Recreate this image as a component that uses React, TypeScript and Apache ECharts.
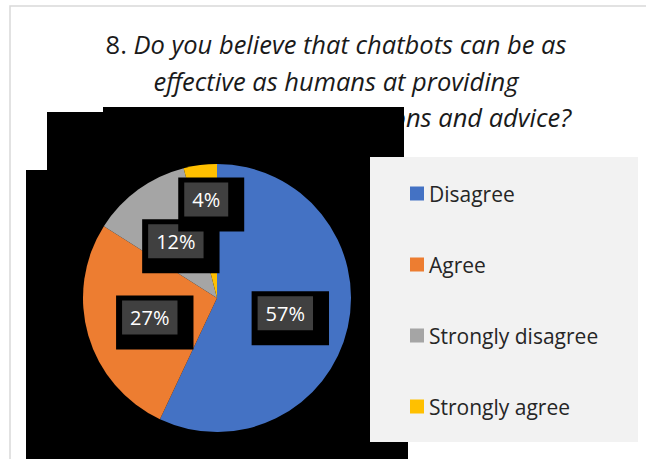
import React, { useEffect, useRef } from "react";
import * as echarts from "echarts";

const categories = ["Disagree", "Agree", "Strongly disagree", "Strongly agree"];
const values = [57, 27, 12, 4];
const colors = ["#4472C4", "#ED7D31", "#A5A5A5", "#FFC000"];
const titleLines = [
  "Do you believe that chatbots can be as",
  "effective as humans at providing",
  "social care recommendations and advice?",
];

export default function App() {
  const ref = useRef<HTMLDivElement>(null);
  useEffect(() => {
    if (!ref.current) return;
    const chart = echarts.init(ref.current, null, { renderer: "svg" });
    const font = "'Open Sans', sans-serif";
    chart.setOption({
      animation: false,
      backgroundColor: "#ffffff",
      title: {
        text: `{n|8. }{i|${titleLines[0]}}\n{i|${titleLines[1]}}\n{i|${titleLines[2]}}`,
        left: 331,
        top: 21,
        textAlign: "center",
        z: 0,
        textStyle: {
          fontWeight: "normal",
          rich: {
            n: { fontFamily: font, fontSize: 25.5, fontWeight: "normal", color: "#1a1a1a", lineHeight: 36.5 },
            i: { fontFamily: font, fontSize: 25.5, fontWeight: "normal", fontStyle: "italic", color: "#1a1a1a", lineHeight: 36.5 },
          },
        },
      },
      graphic: [
        { type: "rect", z: 0, shape: { x: 10, y: 6, width: 700, height: 500 }, style: { fill: "none", stroke: "#d9d9d9", lineWidth: 1.5 } },
        { type: "rect", z: 1, shape: { x: 103, y: 107, width: 301, height: 60 }, style: { fill: "#000" } },
        { type: "rect", z: 1, shape: { x: 47, y: 112, width: 357, height: 60 }, style: { fill: "#000" } },
        { type: "rect", z: 1, shape: { x: 26, y: 170, width: 382, height: 300 }, style: { fill: "#000" } },
        { type: "rect", z: 1, shape: { x: 370, y: 157, width: 268, height: 285 }, style: { fill: "#f2f2f2" } },
      ],
      legend: {
        orient: "vertical",
        left: 410,
        top: 183,
        padding: 0,
        itemWidth: 14,
        itemHeight: 14,
        itemGap: 50,
        icon: "rect",
        z: 4,
        data: categories,
        textStyle: { fontFamily: font, fontSize: 21, color: "#262626", lineHeight: 20, padding: [0, 0, 0, 0] },
      },
      series: [
        {
          type: "pie",
          center: [217, 298],
          radius: 134,
          startAngle: 90,
          clockwise: true,
          z: 2,
          avoidLabelOverlap: false,
          itemStyle: { borderWidth: 0 },
          label: {
            show: true,
            position: "inside",
            backgroundColor: "#000",
            padding: [5, 16, 15, 6],
            formatter: (p: any) => `{a|${Math.round(p.percent)}%}`,
            rich: {
              a: {
                fontFamily: font,
                fontSize: 20,
                color: "#ffffff",
                backgroundColor: "#404040",
                padding: [7, 8, 7, 8],
              },
            },
          },
          labelLine: { show: false },
          labelLayout: (p: any) => (p.dataIndex === 3 ? { dx: 3, dy: -24 } : { dx: 5, dy: 5 }),
          data: categories.map((c, i) => ({ name: c, value: values[i], itemStyle: { color: colors[i] } })),
        },
      ],
    });
    return () => chart.dispose();
  }, []);
  return (
    <div
      ref={ref}
      style={{ position: "fixed", left: 0, top: 0, width: 646, height: 459, background: "#fff" }}
    />
  );
}
